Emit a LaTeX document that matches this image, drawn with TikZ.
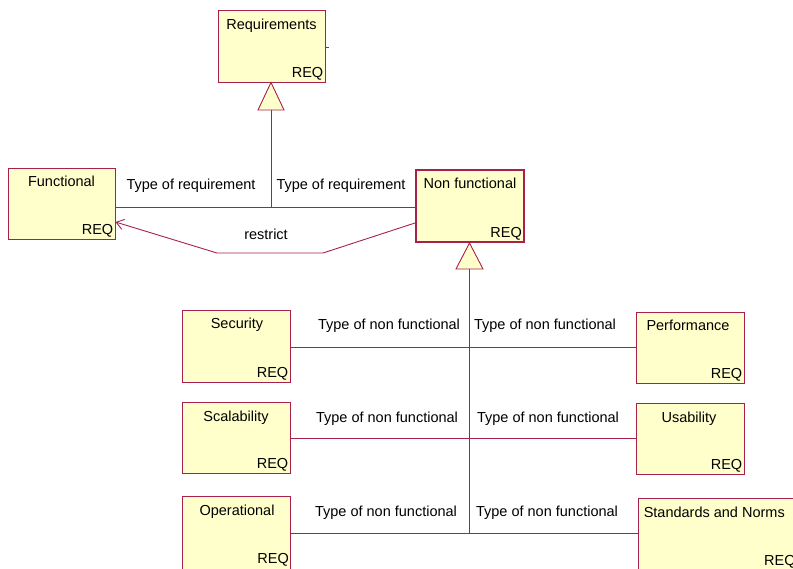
\documentclass[tikz,border=0pt]{standalone}
\usepackage{fontspec}
\setmainfont{Liberation Sans}
\usetikzlibrary{arrows.meta}
\definecolor{umlline}{RGB}{168,32,78}
\definecolor{umlfill}{RGB}{255,255,204}
\tikzset{
  reqbox/.style={draw=umlline, fill=umlfill, line width=0.9pt, inner sep=0pt, minimum width=108pt, minimum height=72pt},
  boxtitle/.style={anchor=base, inner sep=0pt, font=\fontsize{14.5pt}{16pt}\selectfont},
  reqtag/.style={anchor=base east, inner sep=0pt, font=\fontsize{14.5pt}{16pt}\selectfont},
  lbl/.style={inner sep=0pt, font=\fontsize{14.5pt}{16pt}\selectfont},
  conn/.style={draw=umlline, line width=0.9pt},
  gen/.style={draw=umlline, fill=umlfill, line width=0.9pt, line join=miter}
}
\begin{document}
\begin{tikzpicture}[x=1pt,y=-1pt]
\useasboundingbox (0,0) rectangle (793,568);
% boxes
\node[reqbox, minimum width=107pt] (req) at (271.5,46) {};
\node[reqbox, minimum width=107pt, minimum height=71pt] (fun) at (61.5,203.5) {};
\node[reqbox, line width=2pt] (nf) at (470,206) {};
\node[reqbox] (sec) at (236,346) {};
\node[reqbox, minimum height=71pt] (perf) at (690,347.5) {};
\node[reqbox, minimum height=71pt] (scal) at (236,437.5) {};
\node[reqbox, minimum height=71pt] (usa) at (690,438.5) {};
\node[reqbox, minimum height=76pt] (op) at (236,534) {};
\node[reqbox, minimum width=170pt, minimum height=76pt] (std) at (723,536) {};
% titles
\node[boxtitle] (reqT) at ([yshift=-20pt]req.north) {Requirements};
\node[reqtag] (reqR) at ([xshift=-2pt,yshift=5pt]req.south east) {REQ};
\node[boxtitle] (funT) at ([yshift=-19pt]fun.north) {Functional};
\node[reqtag] (funR) at ([xshift=-2pt,yshift=5pt]fun.south east) {REQ};
\node[boxtitle] (nfT) at ([yshift=-19pt]nf.north) {Non functional};
\node[reqtag] (nfR) at ([xshift=-3pt,yshift=6pt]nf.south east) {REQ};
\node[boxtitle] (secT) at ([xshift=1pt,yshift=-19pt]sec.north) {Security};
\node[reqtag] (secR) at ([xshift=-2pt,yshift=5pt]sec.south east) {REQ};
\node[boxtitle] (perfT) at ([xshift=-2pt,yshift=-19pt]perf.north) {Performance};
\node[reqtag] (perfR) at ([xshift=-2pt,yshift=5pt]perf.south east) {REQ};
\node[boxtitle] (scalT) at ([yshift=-20pt]scal.north) {Scalability};
\node[reqtag] (scalR) at ([xshift=-2pt,yshift=5pt]scal.south east) {REQ};
\node[boxtitle] (usaT) at ([xshift=-1pt,yshift=-20pt]usa.north) {Usability};
\node[reqtag] (usaR) at ([xshift=-2pt,yshift=5pt]usa.south east) {REQ};
\node[boxtitle] (opT) at ([xshift=1pt,yshift=-20pt]op.north) {Operational};
\node[reqtag] (opR) at (289,563) {REQ};
\node[boxtitle, anchor=base west] (stdT) at ([xshift=6pt,yshift=-20pt]std.north west) {Standards and Norms};
\node[reqtag, anchor=base west] (stdR) at (764,565) {REQ};
% small tick on Requirements
\coordinate (tick) at (329,47);
\draw[conn] (req.east |- tick) -- (tick);
% generalisation: Requirements
\coordinate (t1base) at (271,110);
\coordinate (j1) at (271,207);
\draw[gen] ([xshift=-0.5pt]req.south) -- ([xshift=-13pt]t1base) -- ([xshift=13pt]t1base) -- cycle;
\draw[conn] (t1base) -- (j1);
\draw[conn] (fun.east |- j1) -- (nf.west |- j1);
\node[lbl] (l1) at (191,186) {Type of requirement};
\node[lbl] (l2) at (341,186) {Type of requirement};
% restrict
\coordinate (r1) at (323,253);
\coordinate (r2) at (217,253);
\draw[conn, -{Straight Barb[angle=70:9pt, line width=0.9pt]}] ([yshift=-17pt]nf.west) -- (r1) -- (r2) -- ([yshift=-18.5pt]fun.east);
\node[lbl] (lr) at (266,234) {restrict};
% generalisation: Non functional
\coordinate (t2base) at (469.5,269);
\coordinate (j4) at (469.5,533);
\draw[gen] ([xshift=-0.5pt]nf.south) -- ([xshift=-13.5pt]t2base) -- ([xshift=13.5pt]t2base) -- cycle;
\draw[conn] (t2base) -- (j4);
\coordinate (j2) at (469.5,347);
\coordinate (j3) at (469.5,438);
\draw[conn] (sec.east |- j2) -- (perf.west |- j2);
\draw[conn] (scal.east |- j3) -- (usa.west |- j3);
\draw[conn] (op.east |- j4) -- (std.west |- j4);
\node[lbl] (a1) at (389,326) {Type of non functional};
\node[lbl] (b1) at (545,326) {Type of non functional};
\node[lbl] (a2) at (387,419) {Type of non functional};
\node[lbl] (b2) at (548,419) {Type of non functional};
\node[lbl] (a3) at (386,513) {Type of non functional};
\node[lbl] (b3) at (547,513) {Type of non functional};
\end{tikzpicture}
\end{document}
